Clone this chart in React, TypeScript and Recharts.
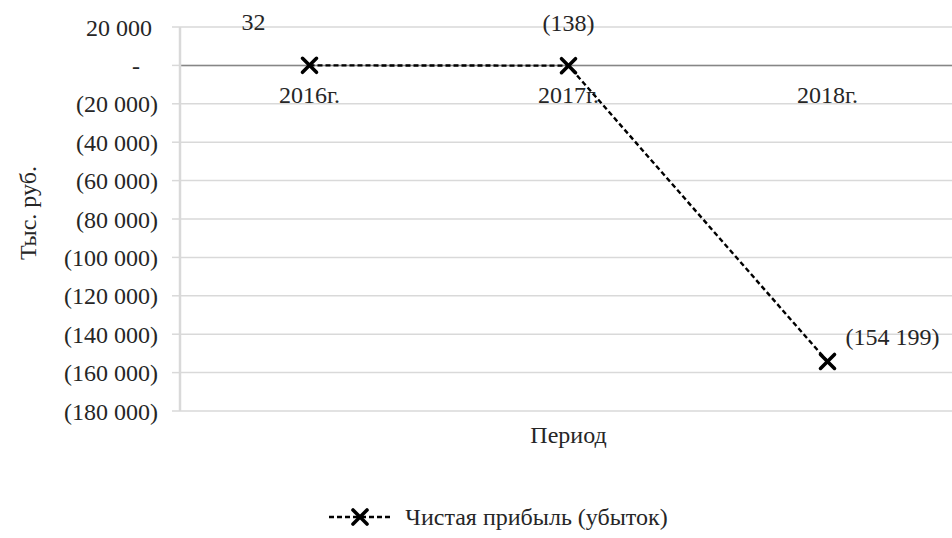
import {
  LineChart, Line, XAxis, YAxis, CartesianGrid, Legend, ReferenceLine, ReferenceDot, LabelList
} from 'recharts';

const periods = ['2016г.', '2017г.', '2018г.'];
const netProfit = [32, -138, -154199];
const yTicks = [20000, 0, -20000, -40000, -60000, -80000, -100000, -120000, -140000, -160000, -180000];

const data = periods.map((period, i) => ({ period, profit: netProfit[i] }));

const FONT = '"Liberation Serif", "Times New Roman", serif';
const TEXT = '#262626';
const FS = 24;

const group = (n: number) => String(Math.abs(n)).replace(/\B(?=(\d{3})+(?!\d))/g, ' ');

const fmtTick = (v: number) => {
  if (v === 0) return '-\u00a0\u00a0\u00a0';
  if (v < 0) return `(${group(v)})`;
  return `${group(v)}\u00a0`;
};

const fmtLabel = (v: number) => (v < 0 ? `(${group(v)})` : group(v));

// manual label placement, like the hand-dragged labels in the original
const labelShift = [
  { dx: -56, dy: -43, anchor: 'middle' },
  { dx: 0, dy: -43, anchor: 'middle' },
  { dx: 18, dy: -24, anchor: 'start' },
];

const PointLabel = ({ x, y, value, index }: any) => {
  const s = labelShift[index] ?? labelShift[0];
  return (
    <text x={x + s.dx} y={y + s.dy} textAnchor={s.anchor} dominantBaseline="central"
      fill={TEXT} fontSize={FS} fontFamily={FONT}>
      {fmtLabel(value)}
    </text>
  );
};

const YTitle = ({ viewBox }: any) => {
  if (!viewBox) return null;
  const cx = viewBox.x + 28;
  const cy = viewBox.y + viewBox.height / 2 - 6;
  return (
    <text x={cx} y={cy} transform={`rotate(-90 ${cx} ${cy})`} textAnchor="middle" dominantBaseline="central"
      fill={TEXT} fontSize={FS} fontFamily={FONT}>
      Тыс. руб.
    </text>
  );
};

const Cross = ({ cx, cy }: any) => {
  if (cx == null || cy == null) return null;
  const d = 7;
  return (
    <g stroke="#000" strokeWidth={3.6} strokeLinecap="round">
      <line x1={cx - d} y1={cy - d} x2={cx + d} y2={cy + d} />
      <line x1={cx - d} y1={cy + d} x2={cx + d} y2={cy - d} />
    </g>
  );
};

const LegendBox = () => (
  <div style={{ height: 89, display: 'flex', alignItems: 'flex-end', justifyContent: 'center', paddingLeft: 40 }}>
    <div style={{ display: 'flex', alignItems: 'center', height: 30, fontFamily: FONT, fontSize: FS, color: TEXT }}>
      <svg width={64} height={20} style={{ marginRight: 12 }}>
        <line x1={0} y1={10} x2={64} y2={10} stroke="#000" strokeWidth={2.4} strokeDasharray="5 3" />
        <Cross cx={31} cy={10} />
      </svg>
      Чистая прибыль (убыток)
    </div>
  </div>
);

export default function App() {
  return (
    <div style={{ position: 'absolute', left: 0, top: 0, background: '#fff', overflow: 'hidden' }}>
      <LineChart width={952} height={538} data={data}
        margin={{ top: 27, right: -5, left: 0, bottom: 6 }}
        style={{ fontFamily: FONT }}>
        <CartesianGrid vertical={false} stroke="#d9d9d9" strokeWidth={1.5} />
        <XAxis dataKey="period" scale="band" tick={false} axisLine={false} tickLine={false} height={32}
          label={{ value: 'Период', position: 'insideBottom', offset: 0, fill: TEXT, fontSize: FS, fontFamily: FONT }} />
        <YAxis domain={[-180000, 20000]} ticks={yTicks} interval={0} width={180}
          tickFormatter={fmtTick} tickSize={8} tickMargin={14}
          axisLine={{ stroke: '#d9d9d9', strokeWidth: 2.5 }} tickLine={{ stroke: '#d9d9d9', strokeWidth: 1.5 }}
          tick={{ fill: TEXT, fontSize: FS, fontFamily: FONT }}
          label={<YTitle />} />
        <ReferenceLine y={0} stroke="#868686" strokeWidth={1.5} />
        {periods.map((p) => (
          <ReferenceDot key={p} x={p} y={0} r={0} fill="none" stroke="none"
            label={{ value: p, position: 'bottom', offset: 21, fill: TEXT, fontSize: FS, fontFamily: FONT }} />
        ))}
        <Line dataKey="profit" type="linear" stroke="#000" strokeWidth={2.4} strokeDasharray="5 3"
          dot={<Cross />} activeDot={false} isAnimationActive={false}>
          <LabelList dataKey="profit" content={<PointLabel />} />
        </Line>
        <Legend verticalAlign="bottom" content={<LegendBox />} />
      </LineChart>
    </div>
  );
}
